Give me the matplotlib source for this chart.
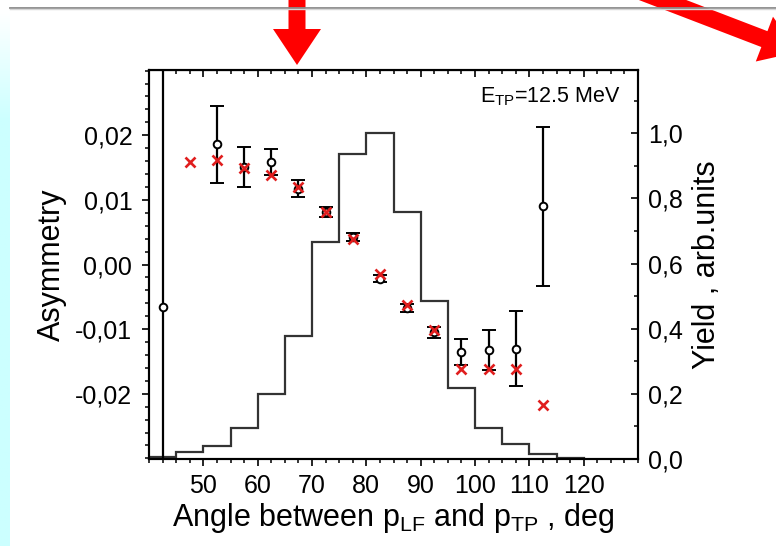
import matplotlib
matplotlib.use('Agg')
import matplotlib.pyplot as plt
import numpy as np
from matplotlib.patches import FancyArrow
from matplotlib.colors import LinearSegmentedColormap
from matplotlib.ticker import MultipleLocator, FuncFormatter

plt.rcParams['font.family'] = ['Liberation Sans', 'DejaVu Sans']
plt.rcParams['mathtext.fontset'] = 'custom'
plt.rcParams['mathtext.rm'] = 'Liberation Sans'
plt.rcParams['mathtext.it'] = 'Liberation Sans:italic'

# yield histogram (right axis), 5 deg bins
bin_edges = [40, 45, 50, 55, 60, 65, 70, 75, 80, 85, 90, 95, 100, 105, 110, 115, 120]
yield_vals = [0.005, 0.02, 0.04, 0.095, 0.20, 0.378, 0.665, 0.935, 1.0,
              0.757, 0.484, 0.219, 0.096, 0.047, 0.016, 0.003]

# measured asymmetry (open circles with error bars)
exp_angle = [42.5, 52.5, 57.5, 62.5, 67.5, 72.5, 77.5, 82.5, 87.5, 92.5, 97.5, 102.5, 107.5, 112.5]
exp_asym = [-0.0066, 0.0186, 0.0151, 0.0159, 0.0117, 0.0081, 0.0042, -0.0022,
            -0.0067, -0.0105, -0.0136, -0.0132, -0.0130, 0.0090]
exp_err = [0.08, 0.0060, 0.0031, 0.0020, 0.0013, 0.0008, 0.0006, 0.0005,
           0.0006, 0.0008, 0.0020, 0.0031, 0.0058, 0.0123]

# calculated asymmetry (red crosses)
calc_angle = [47.5, 52.5, 57.5, 62.5, 67.5, 72.5, 77.5, 82.5, 87.5, 92.5, 97.5, 102.5, 107.5, 112.5]
calc_asym = [0.0159, 0.0162, 0.0150, 0.0138, 0.0120, 0.0081, 0.0040, -0.0014,
             -0.0062, -0.0102, -0.0162, -0.0162, -0.0162, -0.0218]

fig = plt.figure(figsize=(7.76, 5.46), dpi=100)

# slide decorations (pixel coordinates)
deco = fig.add_axes([0, 0, 1, 1], zorder=-5)
cyan = LinearSegmentedColormap.from_list('cy', ['#ffffff', '#ccffff'])
grad = np.clip((np.linspace(0, 546, 200) - 10) / 110, 0, 1).reshape(-1, 1)
deco.imshow(grad, extent=[0, 10, 546, 0], aspect='auto', cmap=cyan, vmin=0, vmax=1)
deco.plot([10, 776], [7.5, 7.5], color='#8a8a8a', lw=1.3)
deco.plot([10, 776], [9.3, 9.3], color='#d6d6d6', lw=1.0)
deco.add_patch(FancyArrow(297, -5, 0, 70, width=17, head_width=48, head_length=36,
                          length_includes_head=True, color='red', lw=0))
ang = np.deg2rad(21)
deco.add_patch(FancyArrow(798 - 190 * np.cos(ang), 52 - 190 * np.sin(ang),
                          190 * np.cos(ang), 190 * np.sin(ang),
                          width=17, head_width=48, head_length=36,
                          length_includes_head=True, color='red', lw=0))
deco.set_xlim(0, 776)
deco.set_ylim(546, 0)
deco.axis('off')

ax = fig.add_axes([149 / 776, 1 - 459 / 546, 489 / 776, 389 / 546])
ax2 = ax.twinx()
ax.set_zorder(ax2.get_zorder() + 1)
ax.patch.set_visible(False)

ax2.stairs(yield_vals, bin_edges, color='#333333', lw=1.6)

ax.errorbar(exp_angle, exp_asym, yerr=exp_err, fmt='o', ms=5.5, mfc='white', mec='black',
            mew=1.4, ecolor='black', elinewidth=1.6, capsize=5, capthick=1.6, zorder=3)
ax.plot(calc_angle, calc_asym, 'x', color='#e01e1e', ms=7.5, mew=1.9, zorder=4)

ax.set_xlim(40, 130)
ax.set_ylim(-0.0301, 0.0301)
ax2.set_ylim(0, 1.194)

ax.set_xticks(np.arange(50, 121, 10))
ax.xaxis.set_minor_locator(MultipleLocator(2.5))
ax.set_yticks([-0.02, -0.01, 0.0, 0.01, 0.02])
ax.yaxis.set_minor_locator(MultipleLocator(0.002))
ax.yaxis.set_major_formatter(FuncFormatter(lambda v, p: f'{round(v, 4) + 0.0:.2f}'.replace('.', ',')))
ax2.yaxis.set_major_locator(MultipleLocator(0.2))
ax2.yaxis.set_minor_locator(MultipleLocator(0.1))
ax2.yaxis.set_major_formatter(FuncFormatter(lambda v, p: f'{v:.1f}'.replace('.', ',')))

ax.tick_params(axis='both', which='major', direction='out', length=5, width=1.2, labelsize=18, pad=6)
ax.tick_params(axis='y', which='major', pad=7)
ax.tick_params(axis='both', which='minor', direction='out', length=3, width=1.1)
ax2.tick_params(axis='y', which='major', direction='in', length=5, width=1.2, labelsize=18, pad=7)
ax2.tick_params(axis='y', which='minor', direction='in', length=3, width=1.1)

top = ax.secondary_xaxis('top')
top.set_xticks(np.arange(50, 121, 10))
top.xaxis.set_minor_locator(MultipleLocator(2.5))
top.tick_params(which='major', direction='in', length=5, width=1.2, labeltop=False)
top.tick_params(which='minor', direction='in', length=3, width=1.1)

for a in (ax, ax2):
    for s in a.spines.values():
        s.set_linewidth(1.5)

ax.set_xlabel(r'Angle between p$_{\mathrm{LF}}$ and p$_{\mathrm{TP}}$ , deg', fontsize=22, labelpad=2)
ax.set_ylabel('Asymmetry', fontsize=22, labelpad=6)
ax2.set_ylabel('Yield , arb.units', fontsize=22, labelpad=7)

ax.text(0.965, 0.96, r'E$_{\mathrm{TP}}$=12.5 MeV', transform=ax.transAxes,
        ha='right', va='top', fontsize=15.5)

fig.savefig('out.png', dpi=100)
